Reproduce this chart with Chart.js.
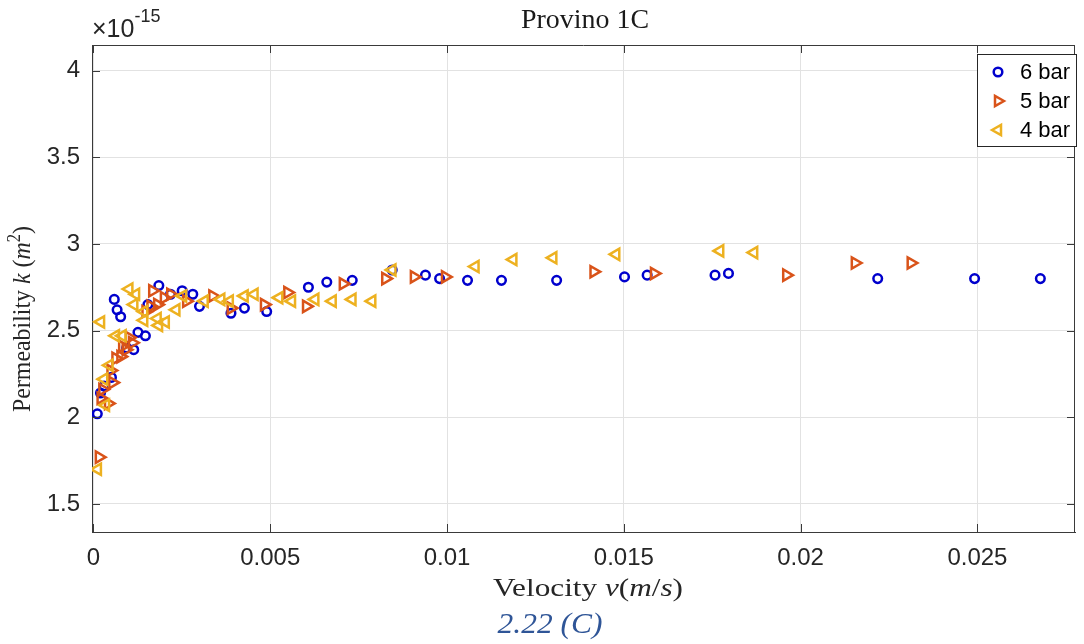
<!DOCTYPE html>
<html><head><meta charset="utf-8">
<script src="https://cdn.jsdelivr.net/npm/chart.js@4.4.1/dist/chart.umd.min.js"></script>
<style>html,body{margin:0;padding:0;background:#fff;} #wrap{width:1084px;height:644px;position:relative;}</style>
</head><body><div id="wrap"><canvas id="c" width="1084" height="644"></canvas></div>
<script>
const xTicks = [0, 0.005, 0.01, 0.015, 0.02, 0.025];
const yTicks = [1.5, 2, 2.5, 3, 3.5, 4];
const seriesNames = ['6 bar', '5 bar', '4 bar'];

const v6 = [0.00011,0.0002,0.0003,0.00051,0.00059,0.00067,0.00077,0.00094,0.00114,0.00126,0.00147,0.00154,0.00185,0.00218,0.00251,0.00281,0.0030,0.00389,0.00427,0.0049,0.00608,0.0066,0.00732,0.00845,0.00939,0.00979,0.01058,0.01154,0.0131,0.01502,0.01566,0.01758,0.01796,0.02218,0.02492,0.02678];
const k6 = [2.02,2.14,2.18,2.23,2.68,2.62,2.58,2.40,2.39,2.49,2.47,2.65,2.76,2.71,2.73,2.71,2.64,2.60,2.63,2.61,2.75,2.78,2.79,2.85,2.82,2.80,2.79,2.79,2.79,2.81,2.82,2.82,2.83,2.80,2.80,2.80];

const v5 = [0.00016,0.00021,0.00026,0.00042,0.00049,0.00054,0.00063,0.00077,0.00082,0.00092,0.00101,0.0011,0.00148,0.00162,0.00167,0.00181,0.002,0.00218,0.00263,0.00337,0.00389,0.00483,0.00549,0.00602,0.00706,0.00826,0.00907,0.00995,0.01415,0.01586,0.0196,0.02154,0.02312];
const k5 = [1.77,2.11,2.16,2.08,2.27,2.20,2.34,2.35,2.41,2.39,2.46,2.43,2.61,2.64,2.73,2.65,2.69,2.71,2.67,2.70,2.63,2.65,2.72,2.64,2.77,2.80,2.81,2.81,2.84,2.83,2.82,2.89,2.89];

const v4 = [0.00012,0.00021,0.0003,0.00035,0.00045,0.00063,0.00082,0.00101,0.00115,0.0012,0.00143,0.00143,0.00181,0.00185,0.00204,0.00234,0.00253,0.00314,0.00361,0.00385,0.00427,0.00455,0.00525,0.00561,0.00627,0.00676,0.00732,0.00788,0.00845,0.0108,0.01187,0.013,0.01478,0.01772,0.01868];
const k4 = [1.70,2.55,2.22,2.07,2.30,2.47,2.47,2.74,2.65,2.71,2.61,2.56,2.57,2.53,2.55,2.62,2.70,2.67,2.68,2.67,2.70,2.71,2.69,2.67,2.68,2.67,2.68,2.67,2.85,2.87,2.91,2.92,2.94,2.96,2.95];

const C6 = '#0000CD', C5 = '#D95319', C4 = '#EDB120';
const AX = '#3a3a3a';
const pts = (xs, ys) => xs.map((x, i) => ({x: x, y: ys[i]}));

function drawMarker(ctx, style, x, y) {
  ctx.save();
  ctx.lineWidth = 2.5;
  ctx.strokeStyle = style.color;
  ctx.beginPath();
  if (style.kind === 'circle') {
    ctx.arc(x, y, 4.3, 0, Math.PI * 2);
  } else {
    const r = 6, dir = style.kind === 'right' ? 1 : -1;
    ctx.moveTo(x + dir * r, y);
    ctx.lineTo(x - dir * r * 0.5, y - r * 0.866);
    ctx.lineTo(x - dir * r * 0.5, y + r * 0.866);
    ctx.closePath();
  }
  ctx.stroke();
  ctx.restore();
}

function partsWidth(ctx, parts) {
  let w = 0;
  for (const p of parts) { ctx.font = p.font; w += ctx.measureText(p.t).width; }
  return w;
}
function drawParts(ctx, parts, cx, baseline, target, color) {
  const w = partsWidth(ctx, parts);
  const s = target ? target / w : 1;
  ctx.save();
  ctx.translate(cx - (w * s) / 2, baseline);
  ctx.scale(s, 1);
  ctx.fillStyle = color;
  ctx.textBaseline = 'alphabetic';
  ctx.textAlign = 'left';
  let x = 0;
  for (const p of parts) {
    ctx.font = p.font;
    ctx.fillText(p.t, x, p.dy || 0);
    x += ctx.measureText(p.t).width;
  }
  ctx.restore();
}

const overlay = {
  id: 'overlay',
  afterDraw(chart) {
    const ctx = chart.ctx, a = chart.chartArea;
    const xs = chart.scales.x, ys = chart.scales.y;
    ctx.save();
    ctx.strokeStyle = AX; ctx.lineWidth = 1;
    ctx.beginPath();
    ctx.moveTo(a.left, a.top + 0.5); ctx.lineTo(a.right, a.top + 0.5);
    ctx.moveTo(a.right - 0.5, a.top); ctx.lineTo(a.right - 0.5, a.bottom);
    ctx.stroke();
    ctx.beginPath();
    for (const v of xTicks) {
      const px = Math.round(xs.getPixelForValue(v)) + 0.5;
      ctx.moveTo(px, a.bottom); ctx.lineTo(px, a.bottom - 8);
      ctx.moveTo(px, a.top); ctx.lineTo(px, a.top + 8);
    }
    for (const v of yTicks) {
      const py = Math.round(ys.getPixelForValue(v)) + 0.5;
      ctx.moveTo(a.left, py); ctx.lineTo(a.left + 8, py);
      ctx.moveTo(a.right, py); ctx.lineTo(a.right - 8, py);
    }
    ctx.stroke();

    const serif = "'Liberation Serif', 'Times New Roman', serif";
    const sans = "'Liberation Sans', Arial, sans-serif";
    drawParts(ctx, [{t: 'Provino 1C', font: '27px ' + serif}], 585, 28, 128, '#1a1a1a');
    ctx.fillStyle = '#262626';
    ctx.textAlign = 'left'; ctx.textBaseline = 'alphabetic';
    ctx.font = '25px ' + sans;
    ctx.fillText('\u00d710', 92, 37);
    const w10 = ctx.measureText('\u00d710').width;
    ctx.font = '18px ' + sans;
    ctx.fillText('-15', 92 + w10, 22);
    const up = '26px ' + serif, it = 'italic 26px ' + serif;
    drawParts(ctx, [
      {t: 'Velocity ', font: up}, {t: 'v', font: it}, {t: '(', font: up},
      {t: 'm', font: it}, {t: '/', font: up}, {t: 's', font: it}, {t: ')', font: up}
    ], 588, 596, 190, '#262626');
    ctx.save();
    ctx.translate(30, 319);
    ctx.rotate(-Math.PI / 2);
    drawParts(ctx, [
      {t: 'Permeability ', font: up}, {t: 'k', font: it}, {t: ' (', font: up},
      {t: 'm', font: it}, {t: '2', font: '18px ' + serif, dy: -10}, {t: ')', font: up}
    ], 0, 0, 186, '#262626');
    ctx.restore();
    drawParts(ctx, [{t: '2.22 (C)', font: 'italic 30px ' + serif}], 550, 633, 105, '#2F5597');

    const lx = 977.5, ly = 54.5, lw = 99, lh = 92;
    ctx.fillStyle = '#ffffff';
    ctx.fillRect(lx, ly, lw, lh);
    ctx.strokeStyle = '#262626'; ctx.lineWidth = 1;
    ctx.strokeRect(lx, ly, lw, lh);
    const styles = [{kind: 'circle', color: C6}, {kind: 'right', color: C5}, {kind: 'left', color: C4}];
    const rows = [72, 101, 130];
    ctx.font = '22px ' + sans;
    ctx.textBaseline = 'middle';
    seriesNames.forEach((n, i) => {
      drawMarker(ctx, styles[i], 998, rows[i]);
      ctx.fillStyle = '#000';
      ctx.fillText(n, 1020, rows[i] + 1);
    });
    ctx.restore();
  }
};

const tickFont = {family: "'Liberation Sans', Arial, sans-serif", size: 24};

new Chart(document.getElementById('c'), {
  type: 'scatter',
  data: {
    datasets: [
      {label: seriesNames[0], data: pts(v6, k6), pointStyle: 'circle', pointRadius: 4.3, pointBorderWidth: 2.5,
       borderColor: C6, pointBorderColor: C6, backgroundColor: 'rgba(0,0,0,0)', pointBackgroundColor: 'rgba(0,0,0,0)', order: 3},
      {label: seriesNames[1], data: pts(v5, k5), pointStyle: 'triangle', pointRotation: 90, pointRadius: 6.5, pointBorderWidth: 2.5,
       borderColor: C5, pointBorderColor: C5, backgroundColor: 'rgba(0,0,0,0)', pointBackgroundColor: 'rgba(0,0,0,0)', order: 2},
      {label: seriesNames[2], data: pts(v4, k4), pointStyle: 'triangle', pointRotation: -90, pointRadius: 6.5, pointBorderWidth: 2.5,
       borderColor: C4, pointBorderColor: C4, backgroundColor: 'rgba(0,0,0,0)', pointBackgroundColor: 'rgba(0,0,0,0)', order: 1}
    ]
  },
  options: {
    responsive: false,
    animation: false,
    devicePixelRatio: 1,
    layout: {padding: {top: 45, right: 5, bottom: 0, left: 0}},
    plugins: {legend: {display: false}, title: {display: false}, tooltip: {enabled: false}},
    scales: {
      x: {
        type: 'linear', min: -0.00004, max: 0.02776,
        afterBuildTicks: s => { s.ticks = xTicks.map(v => ({value: v})); },
        afterFit: s => { s.height = 112; },
        grid: {color: '#e2e2e2', drawTicks: false, lineWidth: 1},
        border: {display: true, color: AX, width: 1},
        ticks: {font: tickFont, color: '#262626', padding: 12, maxRotation: 0, autoSkip: false,
                callback: v => String(v)}
      },
      y: {
        type: 'linear', min: 1.338, max: 4.148,
        afterBuildTicks: s => { s.ticks = yTicks.map(v => ({value: v})); },
        afterFit: s => { s.width = 92; },
        grid: {color: '#e2e2e2', drawTicks: false, lineWidth: 1},
        border: {display: true, color: AX, width: 1},
        ticks: {font: tickFont, color: '#262626', padding: 12, autoSkip: false,
                callback: v => String(v)}
      }
    }
  },
  plugins: [overlay]
});
</script>
</body></html>
